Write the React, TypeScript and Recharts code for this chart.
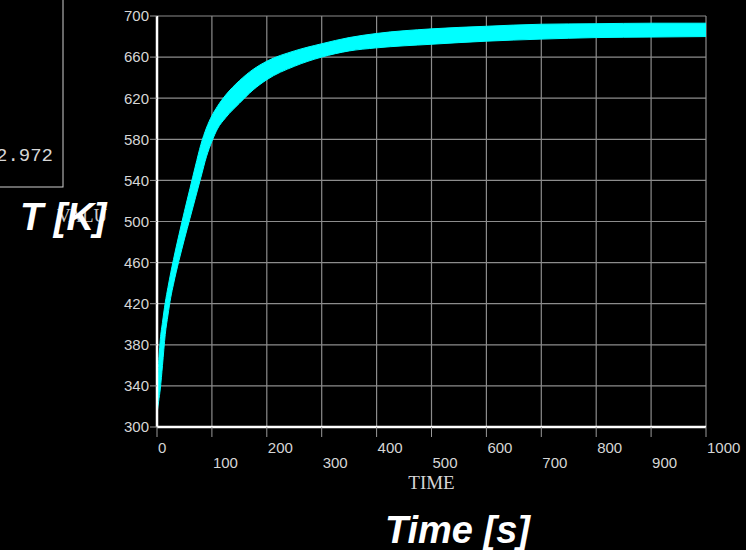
import {
    Area,
    CartesianGrid,
    ComposedChart,
    XAxis,
    YAxis
} from "recharts";

const times = [0, 3, 6, 10, 15, 20, 25, 30, 40, 50, 60, 70, 80, 90, 100, 110, 125, 150, 175, 200, 250, 300, 350, 400, 500, 600, 700, 800, 900, 1000];
// lower / upper edge of the cyan band [K]
const tempLow = [313, 325, 337, 360, 390, 409, 426, 439, 462, 483, 503, 523, 543, 563, 578, 590, 601, 615, 628, 638, 651, 660, 666, 669, 672.5, 675.5, 677.5, 679, 679.5, 680];
const tempHigh = [325, 362, 385, 402, 421, 436, 450, 463, 487, 510, 532, 554, 575, 591, 603, 612, 623, 637, 648, 656, 666, 673, 679, 683, 687.5, 690, 692, 692.5, 693, 693];

const xTicks = [0, 100, 200, 300, 400, 500, 600, 700, 800, 900, 1000];
const yTicks = [300, 340, 380, 420, 460, 500, 540, 580, 620, 660, 700];

const data = times.map((t, i) => ({time: t, band: [tempLow[i], tempHigh[i]]}));

const tickFont = {fontFamily: "'Liberation Sans', Arial, sans-serif", fontSize: 15, fill: "#d6d6d6"};
const bigFont = "'Liberation Sans', Arial, sans-serif";

function TimeTick({x, y, payload, index}: any) {
    // even ticks sit on the first row, odd ones on the second
    const dy = index % 2 === 0 ? 14 : 29;
    return (
        <text x={x + 1} y={y + dy} textAnchor="start" {...tickFont}>
            {payload.value}
        </text>
    );
}

export default function App() {
    return (
        <div style={{position: "absolute", left: 0, top: 0, width: 746, height: 550, background: "#000", overflow: "hidden"}}>
            <ComposedChart
                width={746}
                height={550}
                data={data}
                margin={{top: 16, right: 40, left: 0, bottom: 0}}
            >
                <CartesianGrid stroke="#8c8c8c" strokeWidth={1.2}/>

                <XAxis
                    dataKey="time"
                    type="number"
                    domain={[0, 1000]}
                    ticks={xTicks}
                    height={123}
                    tickSize={10}
                    tickMargin={2}
                    axisLine={{stroke: "#fff", strokeWidth: 2.5}}
                    tickLine={{stroke: "#9a9a9a"}}
                    tick={<TimeTick/>}
                    interval={0}
                    label={{
                        value: "TIME",
                        position: "insideTop",
                        offset: 49,
                        style: {fontFamily: "'Liberation Serif', serif", fontSize: 19, fill: "#d6d6d6"}
                    }}
                />

                <YAxis
                    type="number"
                    domain={[300, 700]}
                    ticks={yTicks}
                    width={157}
                    tickSize={7}
                    tickMargin={1}
                    axisLine={{stroke: "#fff", strokeWidth: 2.5}}
                    tickLine={{stroke: "#9a9a9a"}}
                    tick={tickFont}
                    interval={0}
                />

                <Area
                    dataKey="band"
                    type="monotone"
                    stroke="#00ffff"
                    strokeWidth={1}
                    fill="#00ffff"
                    fillOpacity={1}
                    isAnimationActive={false}
                    dot={false}
                    activeDot={false}
                />
            </ComposedChart>

            <svg width={746} height={550} style={{position: "absolute", left: 0, top: 0, pointerEvents: "none"}}>
                <rect x={-10} y={-10} width={73} height={197} fill="none" stroke="#cfcfcf" strokeWidth={1}/>
                <text x={53} y={161} textAnchor="end" fontFamily="'Liberation Mono', monospace" fontSize={19} fill="#d6d6d6">2.972</text>
                <text x={57} y={222} fontFamily="'Liberation Serif', serif" fontSize={19} fill="#c8c8c8">VALU</text>
                <text x={20} y={230} fontFamily={bigFont} fontSize={38} fontWeight="bold" fontStyle="italic" fill="#fff">T [K]</text>
                <text x={385} y={543} fontFamily={bigFont} fontSize={38} fontWeight="bold" fontStyle="italic" fill="#fff">Time [s]</text>
            </svg>
        </div>
    );
}
